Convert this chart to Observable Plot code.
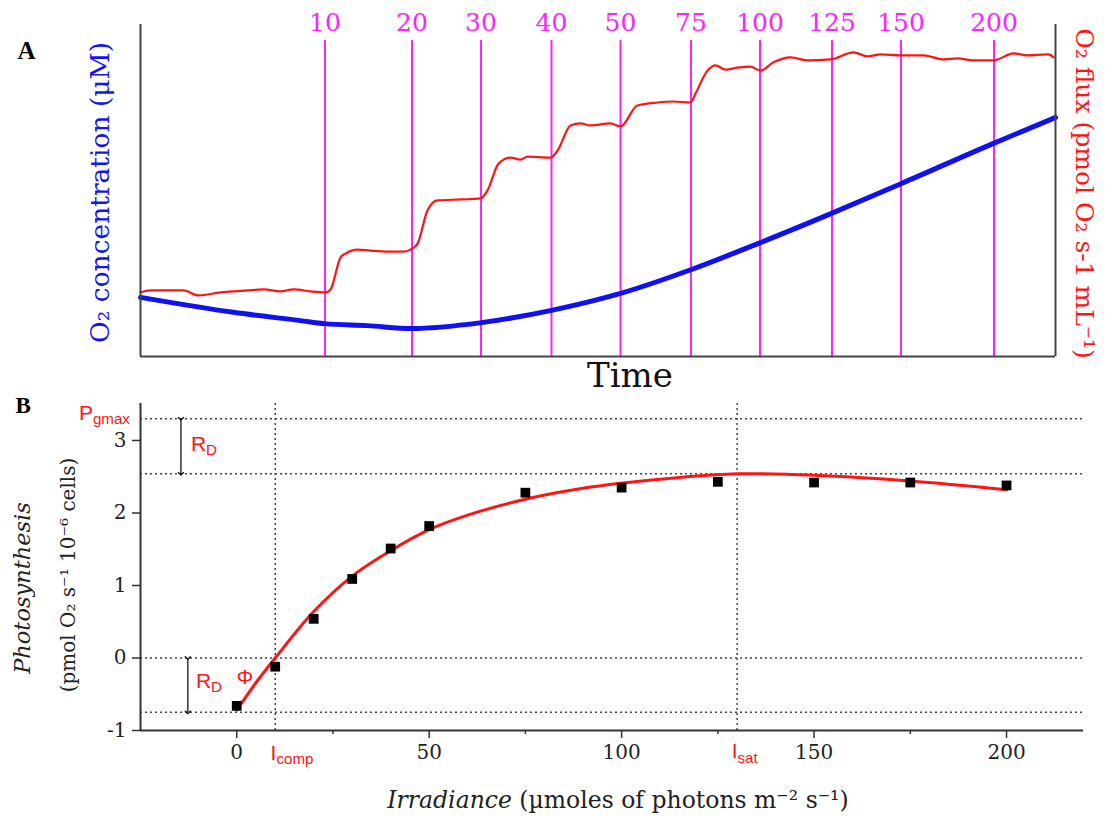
<!DOCTYPE html>
<html>
<head>
<meta charset="utf-8">
<script src="https://cdn.jsdelivr.net/npm/d3@7"></script>
<script src="https://cdn.jsdelivr.net/npm/@observablehq/plot@0.6"></script>
<style>
  body { margin: 0; background: #fff; }
  #wrap { position: relative; width: 1109px; height: 825px; overflow: hidden; }
  #panelA, #panelB { position: absolute; left: 0; }
  #panelA { top: 0; }
  #panelB { top: 390px; }
  svg { overflow: visible; }
</style>
</head>
<body>
<div id="wrap"><div id="panelA"></div><div id="panelB"></div></div>
<script>
// ---------------- Panel A data (time in minutes, signals in relative units) ----------------
const fluxTime = [0,0.67,2.87,3.87,5.33,7.13,8.2,9.33,10.2,11.33,12.33,12.67,13.33,13.67,14.47,15.33,16.5,17.53,18,18.47,19.13,19.8,21.33,22.67,23.13,23.87,24.67,25.33,25.8,27.33,27.8,28.67,29.33,30,31.33,32,33.13,34.47,35.5,36.67,37,37.8,38.33,39,39.8,40.67,41.33,42.2,43.33,44.47,46,47.53,48.47,49.33,50.67,52.2,53.53,54.47,55.5,56.87,58.2,59.13,60.53,60.87];
const fluxValue = [19.3,19.9,19.9,18.4,19.3,19.9,20.2,19.6,20.2,19.6,19.3,20.2,29.8,31.0,32.2,31.9,31.6,31.6,32.2,34.0,44.0,47.0,47.3,47.6,50.0,58.1,59.9,59.3,60.2,59.9,62.0,69.6,70.2,69.6,70.2,69.3,75.6,76.5,76.8,76.5,79.2,86.1,87.7,86.4,87.0,87.3,86.1,88.6,90.1,89.2,89.5,91.6,90.4,91.0,90.7,90.7,89.5,89.8,89.2,89.2,91.3,90.7,91.0,90.1];
const concTime = [0,6.2,10.67,12.27,15.13,18.07,22.73,27.4,32,36.73,41.33,46.07,50.73,56.87,61];
const concValue = [17.8,13.3,10.8,9.9,9.3,8.4,10.2,13.9,19.0,26.2,34.3,43.1,52.1,64.2,72.0];
const irrLevels = [10,20,30,40,50,75,100,125,150,200];
const irrTimes = [12.3,18.1,22.7,27.4,32.0,36.7,41.3,46.1,50.7,56.9];

// ---------------- Panel B data ----------------
const irradiance = [0,10,20,30,40,50,75,100,125,150,175,200];
const photosynthesis = [-0.66,-0.12,0.54,1.09,1.51,1.82,2.28,2.35,2.43,2.42,2.42,2.38];
const fitIrradiance = [0,5,10,20,30,40,50,60,75,90,100,115,130,150,175,200];
const fitPhotosynthesis = [-0.72,-0.34,0.0,0.64,1.13,1.48,1.77,1.97,2.19,2.34,2.41,2.49,2.54,2.52,2.44,2.32];
const refLevels = [3.3, 2.54, 0, -0.75];   // Pgmax, Pmax, 0, -RD
const refIrradiance = [10, 130];           // Icomp, Isat
const annLabels = ["P_gmax", "R_D", "R_D", "Φ", "I_comp", "I_sat"];
const annX = [-41, -11.9, -10.6, 2.1, 8.8, 128.6];
const annY = [3.38, 2.95, -0.32, -0.26, -1.31, -1.29];
const rdX = [-14.5, -12.7];
const rdTop = [3.3, 0];
const rdBottom = [2.54, -0.75];

const serif = "'DejaVu Serif', serif";
const sans = "'Liberation Sans', Arial, sans-serif";
const RED = "#ff1414";

// ---------------- Panel A ----------------
const flux = fluxTime.map((t, i) => ({t, v: fluxValue[i]}));
const conc = concTime.map((t, i) => ({t, v: concValue[i]}));
const steps = irrLevels.map((lvl, i) => ({t: irrTimes[i], lvl}));

const plotA = Plot.plot({
  width: 1109, height: 390,
  marginLeft: 140, marginRight: 54, marginTop: 24, marginBottom: 34,
  x: {domain: [0, 61], axis: null},
  y: {domain: [0, 100], axis: null},
  style: {fontFamily: serif, background: "transparent", overflow: "visible"},
  marks: [
    Plot.ruleX(steps, {x: "t", y1: 0, y2: 95.2, stroke: "#ff22ff", strokeWidth: 2}),
    Plot.text(steps, {x: "t", y: 100.6, text: "lvl", fill: "#ff22ff", fontSize: 25, lineAnchor: "middle"}),
    Plot.line(conc, {x: "t", y: "v", stroke: "#1010f0", strokeWidth: 5, curve: "monotone-x"}),
    Plot.line(flux, {x: "t", y: "v", stroke: RED, strokeWidth: 2.2, curve: "monotone-x"}),
    Plot.ruleX([0, 61], {stroke: "#444", strokeWidth: 2}),
    Plot.ruleY([0], {stroke: "#444", strokeWidth: 2}),
    Plot.text(["O₂ concentration (μM)"], {frameAnchor: "left", dx: -40, dy: 2, rotate: -90, fill: "#1414f0", fontSize: 26.5, textAnchor: "middle", lineAnchor: "middle"}),
    Plot.text(["O₂ flux (pmol O₂ s-1 mL⁻¹)"], {frameAnchor: "right", dx: 28, dy: 3, rotate: 90, fill: RED, fontSize: 25, textAnchor: "middle", lineAnchor: "middle"}),
    Plot.text(["Time"], {frameAnchor: "bottom", dx: 32, dy: 20, fontSize: 34, fill: "#111", textAnchor: "middle", lineAnchor: "middle"}),
    Plot.text(["A"], {frameAnchor: "top-left", dx: -123, dy: 26, fontSize: 25, fontWeight: "bold", fontFamily: "'Liberation Serif', serif", fill: "#000", textAnchor: "start", lineAnchor: "middle"})
  ]
});
document.getElementById("panelA").appendChild(plotA);

// ---------------- Panel B ----------------
const points = irradiance.map((x, i) => ({x, y: photosynthesis[i]}));
const fit = fitIrradiance.map((x, i) => ({x, y: fitPhotosynthesis[i]}));
const anns = annLabels.map((label, i) => ({label, x: annX[i], y: annY[i]}));
const arrows = rdX.map((x, i) => ({x, y1: rdTop[i], y2: rdBottom[i]}));
const dotted = {stroke: "#444", strokeWidth: 1.5, strokeDasharray: "2,3"};

const plotB = Plot.plot({
  width: 1109, height: 435,
  marginLeft: 140, marginRight: 26, marginTop: 13, marginBottom: 95,
  x: {domain: [-25, 220]},
  y: {domain: [-1, 3.51]},
  style: {fontFamily: serif, fontSize: "20px", color: "#222", background: "transparent", overflow: "visible"},
  marks: [
    Plot.ruleY(refLevels, dotted),
    Plot.ruleX(refIrradiance, dotted),
    Plot.axisX({ticks: [0, 50, 100, 150, 200], tickSize: 8, tickPadding: 6, label: null, tickFormat: d => String(d), stroke: "#333", strokeWidth: 1.5}),
    Plot.axisX({ticks: [25, 75, 125, 175], tickSize: 4, text: null, label: null, stroke: "#333", strokeWidth: 1.5}),
    Plot.axisY({ticks: [-1, 0, 1, 2, 3], tickSize: 8, tickPadding: 6, label: null, tickFormat: d => String(d), stroke: "#333", strokeWidth: 1.5}),
    Plot.ruleX([-25], {stroke: "#333", strokeWidth: 2}),
    Plot.ruleY([-1], {stroke: "#333", strokeWidth: 2}),
    Plot.line(fit, {x: "x", y: "y", stroke: RED, strokeWidth: 3, curve: "catmull-rom"}),
    Plot.dot(points, {x: "x", y: "y", symbol: "square", fill: "#000", r: 5.5}),
    Plot.link(arrows, {x1: "x", x2: "x", y1: "y1", y2: "y2", stroke: "#111", strokeWidth: 1.3, markerStart: "arrow", markerEnd: "arrow"}),
    Plot.text(anns.filter(d => d.label !== "Φ"), {x: "x", y: "y", text: "label", fill: RED, fontFamily: sans, fontSize: 21, textAnchor: "start", lineAnchor: "middle"}),
    Plot.text(anns.filter(d => d.label === "Φ"), {x: "x", y: "y", text: "label", fill: RED, fontFamily: sans, fontSize: 21, textAnchor: "middle", lineAnchor: "middle"}),
    Plot.text(["Photosynthesis"], {frameAnchor: "left", dx: -118, dy: 21, rotate: -90, fontSize: 22.5, fontStyle: "italic", fill: "#222", textAnchor: "middle", lineAnchor: "middle"}),
    Plot.text(["(pmol O₂ s⁻¹ 10⁻⁶ cells)"], {frameAnchor: "left", dx: -72, dy: 8, rotate: -90, fontSize: 20, fill: "#222", textAnchor: "middle", lineAnchor: "middle"}),
    Plot.text(["Irradiance (µmoles of photons m⁻² s⁻¹)"], {frameAnchor: "bottom", dx: 6, dy: 70, fontSize: 23.5, fill: "#222", textAnchor: "middle", lineAnchor: "middle"}),
    Plot.text(["B"], {frameAnchor: "top-left", dx: -125, dy: 2, fontSize: 23, fontWeight: "bold", fontFamily: "'Liberation Serif', serif", fill: "#000", textAnchor: "start", lineAnchor: "middle"})
  ]
});
document.getElementById("panelB").appendChild(plotB);

// subscripts and italic part of the x label
d3.select(plotB).selectAll("text").each(function () {
  const s = this.textContent;
  const t = d3.select(this);
  if (s.includes("_")) {
    const [main, sub] = s.split("_");
    t.text(main);
    t.append("tspan").attr("font-size", "0.72em").attr("dy", "0.3em").text(sub);
  } else if (s.startsWith("Irradiance")) {
    t.text(null);
    t.append("tspan").attr("font-style", "italic").text("Irradiance");
    t.append("tspan").text(s.slice("Irradiance".length));
  }
});
</script>
</body>
</html>
